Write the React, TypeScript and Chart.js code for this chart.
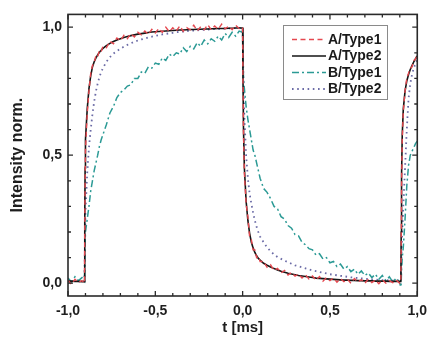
import React, { useEffect, useRef } from "react";
import { Chart, registerables } from "chart.js";

Chart.register(...registerables);

// time axis [ms]
const T = [
  -1.0, -0.98, -0.96, -0.94, -0.92, -0.906,
  -0.904, -0.902, -0.9, -0.89, -0.88, -0.87, -0.86, -0.85, -0.84, -0.83, -0.82, -0.81, -0.8,
  -0.78, -0.76, -0.74, -0.72, -0.7, -0.68, -0.66, -0.64, -0.62, -0.6,
  -0.58, -0.56, -0.54, -0.52, -0.5, -0.48, -0.46, -0.44, -0.42, -0.4,
  -0.38, -0.36, -0.34, -0.32, -0.3, -0.28, -0.26, -0.24, -0.22, -0.2,
  -0.18, -0.16, -0.14, -0.12, -0.1, -0.08, -0.06, -0.04, -0.02, 0.0,
  0.002, 0.005, 0.01, 0.02, 0.03, 0.04, 0.05, 0.06, 0.07, 0.08, 0.09, 0.1,
  0.12, 0.14, 0.16, 0.18, 0.2, 0.22, 0.24, 0.26, 0.28, 0.3,
  0.32, 0.34, 0.36, 0.38, 0.4, 0.42, 0.44, 0.46, 0.48, 0.5,
  0.52, 0.54, 0.56, 0.58, 0.6, 0.62, 0.64, 0.66, 0.68, 0.7,
  0.72, 0.74, 0.76, 0.78, 0.8, 0.82, 0.84, 0.86, 0.88, 0.9,
  0.906, 0.908, 0.91, 0.914, 0.92, 0.93, 0.94, 0.95, 0.96, 0.97, 0.98, 0.99, 1.0,
];

const A_TYPE1 = [
  0.012, -0.004, 0.015, 0.003, 0.01, 0.0,
  0.2, 0.4, 0.52, 0.66, 0.75, 0.82, 0.85, 0.86, 0.89, 0.885, 0.91, 0.905, 0.925,
  0.92, 0.945, 0.935, 0.958, 0.947, 0.968, 0.955, 0.975, 0.962, 0.98,
  0.97, 0.985, 0.972, 0.992, 0.978, 0.995, 0.98, 1.0, 0.982, 0.998,
  0.985, 1.005, 0.984, 0.998, 0.99, 1.008, 0.986, 1.002, 0.99, 1.01,
  0.99, 1.005, 0.992, 1.012, 0.994, 1.004, 0.99, 1.008, 0.995, 1.0,
  0.78, 0.58, 0.43, 0.31, 0.26, 0.18, 0.17, 0.13, 0.13, 0.1, 0.105, 0.085,
  0.085, 0.062, 0.072, 0.05, 0.058, 0.04, 0.05, 0.032, 0.042, 0.028,
  0.036, 0.02, 0.033, 0.016, 0.028, 0.012, 0.026, 0.008, 0.022, 0.01,
  0.02, 0.004, 0.018, 0.006, 0.016, 0.0, 0.018, 0.004, 0.014, 0.0,
  0.016, 0.002, 0.012, -0.002, 0.014, 0.0, 0.01, 0.002, 0.012, 0.0,
  0.004, 0.15, 0.38, 0.56, 0.67, 0.75, 0.8, 0.82, 0.84, 0.845, 0.87, 0.875, 0.895,
];

const A_TYPE2 = [
  0.008, 0.008, 0.007, 0.007, 0.006, 0.006,
  0.25, 0.45, 0.56, 0.68, 0.76, 0.81, 0.845, 0.865, 0.88, 0.892, 0.902, 0.91, 0.917,
  0.928, 0.937, 0.944, 0.95, 0.955, 0.96, 0.964, 0.967, 0.97, 0.973,
  0.975, 0.977, 0.979, 0.981, 0.982, 0.983, 0.984, 0.985, 0.986, 0.987,
  0.988, 0.989, 0.989, 0.99, 0.991, 0.991, 0.992, 0.992, 0.993, 0.993,
  0.994, 0.994, 0.995, 0.995, 0.995, 0.996, 0.996, 0.997, 0.997, 0.997,
  0.8, 0.6, 0.45, 0.32, 0.245, 0.195, 0.16, 0.138, 0.12, 0.107, 0.097, 0.09,
  0.078, 0.07, 0.063, 0.057, 0.052, 0.047, 0.043, 0.039, 0.036, 0.033,
  0.03, 0.028, 0.026, 0.024, 0.022, 0.02, 0.019, 0.018, 0.017, 0.016,
  0.015, 0.014, 0.013, 0.012, 0.012, 0.011, 0.011, 0.01, 0.01, 0.009,
  0.009, 0.009, 0.008, 0.008, 0.008, 0.008, 0.007, 0.007, 0.007, 0.007,
  0.007, 0.2, 0.42, 0.58, 0.68, 0.75, 0.79, 0.815, 0.835, 0.85, 0.865, 0.877, 0.888,
];

const B_TYPE1 = [
  0.02, 0.005, 0.025, 0.01, 0.022, 0.008,
  0.08, 0.14, 0.2, 0.25, 0.3, 0.36, 0.4, 0.44, 0.47, 0.5, 0.535, 0.56, 0.58,
  0.62, 0.665, 0.69, 0.725, 0.745, 0.755, 0.77, 0.775, 0.8, 0.8,
  0.825, 0.82, 0.845, 0.84, 0.86, 0.855, 0.88, 0.87, 0.895, 0.885,
  0.9, 0.895, 0.92, 0.905, 0.925, 0.915, 0.94, 0.925, 0.95, 0.935,
  0.955, 0.945, 0.965, 0.95, 0.975, 0.96, 0.98, 0.965, 0.985, 0.98,
  0.88, 0.8, 0.76, 0.69, 0.64, 0.6, 0.56, 0.52, 0.5, 0.47, 0.44, 0.41,
  0.37, 0.355, 0.33, 0.3, 0.29, 0.26, 0.25, 0.225, 0.215, 0.19,
  0.185, 0.16, 0.15, 0.135, 0.13, 0.11, 0.115, 0.095, 0.1, 0.08,
  0.085, 0.065, 0.075, 0.055, 0.065, 0.045, 0.055, 0.035, 0.048, 0.03,
  0.04, 0.022, 0.035, 0.015, 0.03, 0.01, 0.025, 0.005, 0.02, 0.0,
  -0.015, 0.0, 0.05, 0.1, 0.14, 0.25, 0.38, 0.46, 0.5, 0.515, 0.53, 0.545, 0.555,
];

const B_TYPE2 = [
  0.008, 0.008, 0.008, 0.007, 0.007, 0.007,
  0.1, 0.2, 0.28, 0.43, 0.53, 0.6, 0.66, 0.71, 0.75, 0.78, 0.805, 0.825, 0.84,
  0.865, 0.883, 0.897, 0.907, 0.916, 0.924, 0.931, 0.937, 0.943, 0.948,
  0.952, 0.956, 0.96, 0.963, 0.966, 0.969, 0.972, 0.974, 0.976, 0.978,
  0.98, 0.982, 0.983, 0.985, 0.986, 0.987, 0.988, 0.989, 0.99, 0.991,
  0.992, 0.993, 0.993, 0.994, 0.995, 0.995, 0.996, 0.996, 0.997, 0.997,
  0.9, 0.78, 0.65, 0.5, 0.41, 0.35, 0.31, 0.275, 0.245, 0.22, 0.2, 0.182,
  0.16, 0.14, 0.125, 0.112, 0.102, 0.095, 0.088, 0.082, 0.076, 0.07,
  0.066, 0.062, 0.058, 0.054, 0.05, 0.047, 0.044, 0.041, 0.038, 0.035,
  0.033, 0.031, 0.029, 0.027, 0.025, 0.023, 0.022, 0.02, 0.019, 0.018,
  0.016, 0.015, 0.014, 0.013, 0.012, 0.012, 0.011, 0.01, 0.01, 0.01,
  0.01, 0.06, 0.12, 0.2, 0.3, 0.45, 0.6, 0.72, 0.78, 0.815, 0.84, 0.858, 0.872,
];

const SERIES_LABELS = ["A/Type1", "A/Type2", "B/Type1", "B/Type2"];
const X_TICKS = [-1, -0.5, 0, 0.5, 1];
const Y_TICKS = [0, 0.5, 1];
const X_MINOR = [-0.9, -0.8, -0.7, -0.6, -0.4, -0.3, -0.2, -0.1, 0.1, 0.2, 0.3, 0.4, 0.6, 0.7, 0.8, 0.9];
const Y_MINOR = [0.1, 0.2, 0.3, 0.4, 0.6, 0.7, 0.8, 0.9];

const FONT = "'Liberation Sans', Arial, Helvetica, sans-serif";
const fmt = (v: number) => v.toFixed(1).replace(".", ",");

const STYLES = [
  { color: "#e5484f", dash: [5, 3.5], width: 1.4 },
  { color: "#151515", dash: [] as number[], width: 1.6 },
  { color: "#2b9a95", dash: [7, 3, 2, 3], width: 1.5 },
  { color: "#6b6ba6", dash: [1.6, 3.6], width: 1.8 },
];

const decorPlugin = {
  id: "decor",
  afterDatasetsDraw(chart: any) {
    const { ctx, chartArea, scales } = chart;
    const { left, right, top, bottom } = chartArea;
    const x = scales.x;
    const y = scales.y;
    ctx.save();
    ctx.setLineDash([]);
    ctx.strokeStyle = "#2a2a2a";
    ctx.lineWidth = 1.6;
    ctx.strokeRect(left, top, right - left, bottom - top);
    ctx.lineWidth = 1.3;
    const xt = (v: number, len: number) => {
      const px = x.getPixelForValue(v);
      ctx.beginPath();
      ctx.moveTo(px, bottom);
      ctx.lineTo(px, bottom - len);
      ctx.moveTo(px, top);
      ctx.lineTo(px, top + len);
      ctx.stroke();
    };
    const yt = (v: number, len: number) => {
      const py = y.getPixelForValue(v);
      ctx.beginPath();
      ctx.moveTo(left, py);
      ctx.lineTo(left + len, py);
      ctx.moveTo(right, py);
      ctx.lineTo(right - len, py);
      ctx.stroke();
    };
    X_TICKS.forEach((v) => xt(v, 5));
    X_MINOR.forEach((v) => xt(v, 3));
    Y_TICKS.forEach((v) => yt(v, 5));
    Y_MINOR.forEach((v) => yt(v, 3));

    // legend
    const bx = 283.5, by = 25.5, bw = 104, bh = 74;
    ctx.fillStyle = "#ffffff";
    ctx.fillRect(bx, by, bw, bh);
    ctx.strokeStyle = "#8a8a8a";
    ctx.lineWidth = 1;
    ctx.strokeRect(bx, by, bw, bh);
    const rows = [39.5, 56, 72.5, 89];
    ctx.font = `bold 14px ${FONT}`;
    ctx.textBaseline = "middle";
    ctx.textAlign = "left";
    chart.data.datasets.forEach((ds: any, i: number) => {
      const st = STYLES[i];
      const ry = rows[i];
      ctx.save();
      ctx.strokeStyle = st.color;
      ctx.lineWidth = st.width;
      ctx.setLineDash(st.dash);
      ctx.beginPath();
      ctx.moveTo(292, ry);
      ctx.lineTo(326, ry);
      ctx.stroke();
      ctx.restore();
      ctx.fillStyle = "#1a1a1a";
      ctx.fillText(ds.label, 328, ry + 0.5);
    });
    ctx.restore();
  },
};

export default function App() {
  const ref = useRef<HTMLCanvasElement | null>(null);
  useEffect(() => {
    if (!ref.current) return;
    const series = [A_TYPE1, A_TYPE2, B_TYPE1, B_TYPE2];
    const chart = new Chart(ref.current, {
      type: "line",
      data: {
        datasets: series.map((vals, i) => ({
          label: SERIES_LABELS[i],
          data: T.map((t, k) => ({ x: t, y: vals[k] })),
          borderColor: STYLES[i].color,
          borderWidth: STYLES[i].width,
          borderDash: STYLES[i].dash,
          pointRadius: 0,
          tension: 0,
          fill: false,
        })),
      },
      options: {
        responsive: false,
        animation: false,
        layout: { padding: { left: 0, right: 10, top: 12, bottom: 0 } },
        plugins: { legend: { display: false }, tooltip: { enabled: false } },
        scales: {
          x: {
            type: "linear",
            min: -1,
            max: 1,
            afterBuildTicks: (s: any) => {
              s.ticks = X_TICKS.map((v) => ({ value: v }));
            },
            afterFit: (s: any) => {
              s.height = 46;
            },
            grid: { display: false, drawTicks: false },
            border: { display: false },
            ticks: {
              autoSkip: false,
              maxRotation: 0,
              padding: 7,
              color: "#1e1e1e",
              font: { family: FONT, size: 14, weight: "bold" },
              callback: (v: any) => fmt(Number(v)),
            },
            title: {
              display: true,
              text: "t [ms]",
              color: "#1e1e1e",
              font: { family: FONT, size: 15, weight: "bold", lineHeight: 1 },
              padding: { top: 0, bottom: 7 },
            },
          },
          y: {
            type: "linear",
            min: -0.05,
            max: 1.05,
            afterBuildTicks: (s: any) => {
              s.ticks = Y_TICKS.map((v) => ({ value: v }));
            },
            afterFit: (s: any) => {
              s.width = 68;
            },
            grid: { display: false, drawTicks: false },
            border: { display: false },
            ticks: {
              autoSkip: false,
              padding: 6,
              color: "#1e1e1e",
              font: { family: FONT, size: 14, weight: "bold" },
              callback: (v: any) => fmt(Number(v)),
            },
            title: {
              display: true,
              text: "Intensity norm.",
              color: "#1e1e1e",
              font: { family: FONT, size: 16, weight: "bold", lineHeight: 1 },
              padding: { top: 10, bottom: 0 },
            },
          },
        },
      },
      plugins: [decorPlugin],
    } as any);
    return () => chart.destroy();
  }, []);
  return (
    <div style={{ position: "fixed", left: 0, top: 0, width: 434, height: 342, background: "#fff" }}>
      <canvas ref={ref} width={434} height={342} style={{ display: "block", width: 434, height: 342 }} />
    </div>
  );
}
